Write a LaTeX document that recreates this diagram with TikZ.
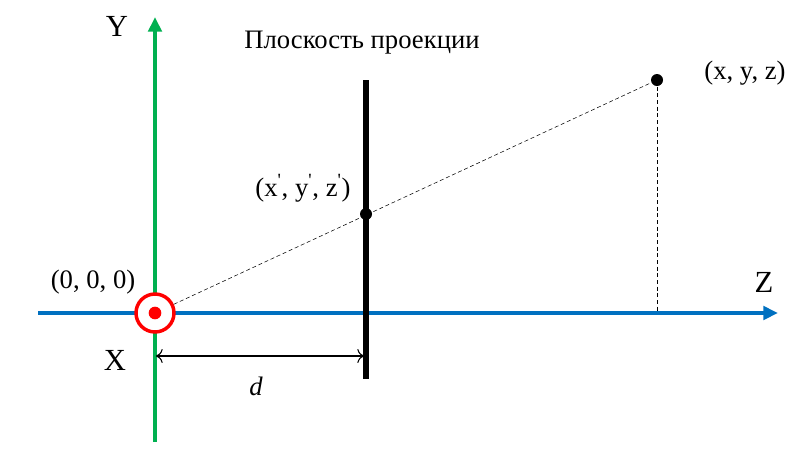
\documentclass[tikz,border=0pt]{standalone}
\usepackage{fontspec}
\setmainfont{Liberation Serif}
\usetikzlibrary{arrows.meta,positioning,calc}

\definecolor{axisgreen}{RGB}{0,176,80}
\definecolor{axisblue}{RGB}{0,112,192}

\newcommand{\tick}{\textsuperscript{\textquotesingle}}

\begin{document}
\begin{tikzpicture}[x=0.75pt, y=-0.75pt,
            every node/.style={font=\fontsize{20}{24}\selectfont, inner sep=0pt},
            axis/.style={line width=3pt, -{Triangle[length=11pt,width=10pt]}},
            axislabel/.style={font=\fontsize{23}{28}\selectfont},
            pt/.style={circle, fill=black, minimum size=9pt},
            guide/.style={thin, dash pattern=on 3pt off 2pt}]
        \useasboundingbox (0,0) rectangle (807,451);

        % axes
        \coordinate (zstart) at (38,313);
        \coordinate (zend) at (778,313);
        \coordinate (ystart) at (155,442);
        \coordinate (yend) at (155,17);
        \draw[axis, axisblue] (zstart) -- (zend);
        \draw[axis, axisgreen] (ystart) -- (yend);

        % projection plane
        \coordinate (planetop) at (366,80);
        \coordinate (planebot) at (366,379);
        \draw[line width=4pt] (planetop) -- (planebot);

        % origin
        \node[circle, draw=red, line width=2.6pt, minimum size=28.5pt, fill=white] (origin) at (155,313) {};
        \node[circle, fill=red, minimum size=9.5pt] (dot) at (origin) {};

        % points
        \node[pt] (far) at (657,80) {};
        \node[pt] (proj) at (366,214) {};
        \coordinate (foot) at (657,313);
        \draw[guide] (origin) -- (far);
        \draw[guide] (far.center) -- (foot);

        % distance d
        \coordinate (dleft) at (156,356);
        \coordinate (dright) at (364,356);
        \draw[thick, {To[length=5pt]}-{To[length=5pt]}] (dleft) -- (dright);
        \node[font=\fontsize{20}{24}\selectfont\itshape] (dlabel) at (256,386) {d};

        % labels
        \node[axislabel] (ylabel) at (117,26) {Y};
        \node[axislabel] (zlabel) at (764,282) {Z};
        \node[axislabel] (xlabel) at (115,360) {X};
        \node (olabel) at (93,282) {(0, 0, 0)};
        \node (planelabel) at (362,43) {Плоскость проекции};
        \node (farlabel) at (745,73) {(x, y, z)};
        \node (projlabel) at (303,188) {(x\tick, y\tick, z\tick)};
\end{tikzpicture}
\end{document}
